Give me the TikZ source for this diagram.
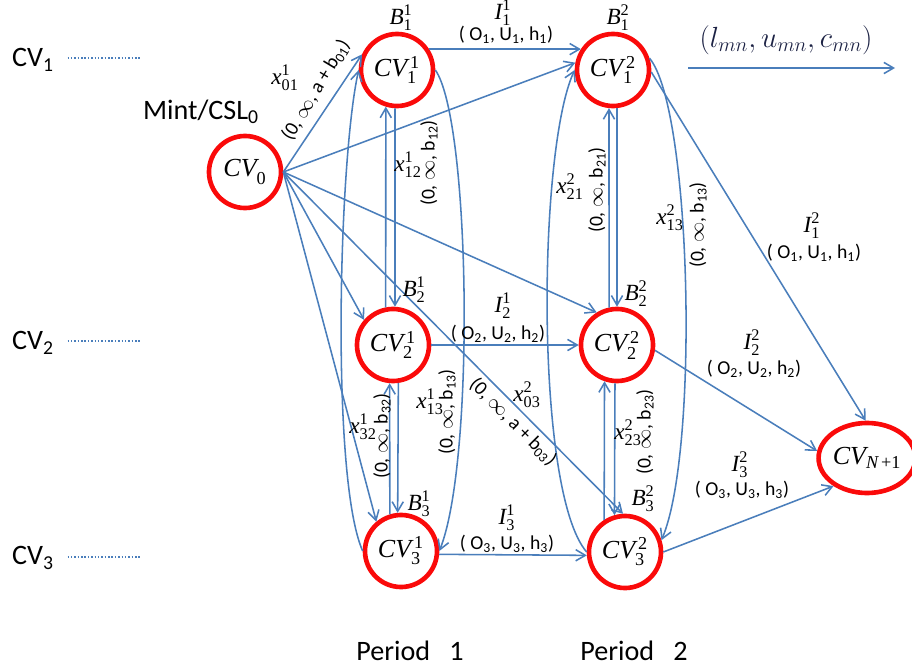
\documentclass[tikz,border=0pt]{standalone}
\usepackage{amsmath}
\usepackage[no-math]{fontspec}
\setmainfont{Carlito}
\newfontfamily\tnr{Liberation Serif}
\usetikzlibrary{arrows.meta, positioning, shapes.geometric}
\definecolor{cvred}{RGB}{250,10,10}
\definecolor{flowblue}{RGB}{74,126,187}
\definecolor{inkblue}{RGB}{28,34,68}
\newcommand{\tsym}[3]{{\tnr\itshape #1}$_{\text{\tnr\upshape #2}}^{\text{\tnr\upshape #3}}$}
\newcommand{\cvsize}{\fontsize{18.5}{22}\selectfont}
\newcommand{\labsize}{\fontsize{14}{16}\selectfont}
\newcommand{\symsize}{\fontsize{16.5}{19}\selectfont}
\newcommand{\bigsize}{\fontsize{20}{24}\selectfont}

\tikzset{
  cvnode/.style={circle, draw=cvred, line width=3.3pt, minimum size=1.8cm, inner sep=0pt, font=\cvsize},
  flow/.style={draw=flowblue, line width=1.1pt, -{Straight Barb[length=2.4mm, width=2.8mm]}},
  symlab/.style={font=\symsize, inner sep=0pt},
  caplab/.style={font=\labsize, inner sep=0pt},
  biglab/.style={font=\bigsize, inner sep=1pt},
  dotline/.style={draw=flowblue, line width=1.1pt, dash pattern=on 1.1pt off 1.3pt}
}

\begin{document}
\begin{tikzpicture}[x=0.025cm, y=-0.025cm]
  \useasboundingbox (0,0) rectangle (912,669);

  % control volumes
  \node[cvnode] (cv0) at (245,172) {\tsym{CV}{0}{}};
  \node[cvnode] (c11) at (397,70) {\tsym{CV}{1}{\,1}};
  \node[cvnode] (c12) at (613,70) {\tsym{CV}{1}{\,2}};
  \node[cvnode] (c21) at (393,345) {\tsym{CV}{2}{\,1}};
  \node[cvnode] (c22) at (617,345) {\tsym{CV}{2}{\,2}};
  \node[cvnode] (c31) at (401,551) {\tsym{CV}{3}{\,1}};
  \node[cvnode] (c32) at (625,552) {\tsym{CV}{3}{\,2}};
  \node[ellipse, draw=cvred, line width=3.3pt, minimum width=2.05cm, minimum height=1.75cm,
        inner sep=0pt, font=\cvsize] (cN) at (867,458)
        {{\tnr\itshape CV}$_{\text{\tnr\itshape N\upshape\,+1}}$};

  % left axis labels
  \foreach \i/\yy/\ty in {1/58/60, 2/341/343, 3/557/558}{
    \node[biglab] (lcv\i) at (33,\ty) {CV\textsubscript{\i}};
    \coordinate (dot\i) at (141,\yy);
    \draw[dotline, shorten <=0.3cm] (lcv\i.east |- dot\i) -- (dot\i);
  }
  \node[biglab] (mint) at (201,112) {Mint/CSL\textsubscript{0}};
  \node[biglab] (per1) at (410,651) {Period~~~1};
  \node[biglab] (per2) at (634,651) {Period~~~2};

  % legend
  \node[font=\fontsize{21}{24}\selectfont, text=inkblue] (lum) at (786,40) {$(l_{mn}, u_{mn}, c_{mn})$};
  \coordinate (ar1) at (688,68);
  \coordinate (ar2) at (895,68);
  \draw[flow] (ar1) -- (ar2);

  % arcs out of CV0
  \draw[flow] (cv0.east) -- (c11.156);
  \draw[flow] (cv0.east) -- (c12.169);
  \draw[flow] (cv0.east) -- (c21.139);
  \draw[flow] (cv0.east) -- (c22.122);
  \draw[flow] (cv0.east) -- (c31.130);
  \draw[flow] (cv0.east) -- (c32.93);

  % transfers inside a period
  \draw[flow] (c21.101) -- (c11.253);
  \draw[flow] (c11.267) -- (c21.87);
  \draw[flow] (c31.107) -- (c21.265);
  \draw[flow] (c21.278) -- (c31.95);
  \draw[flow] (c22.102) -- (c12.264);
  \draw[flow] (c12.276) -- (c22.90);
  \draw[flow] (c32.123) -- (c22.251);
  \draw[flow] (c22.267) -- (c32.106);
  \draw[flow] (c31.west) .. controls +(-32,-72) and +(-20,90) .. (c11.west);
  \draw[flow] (c11.east) .. controls +(35,50) and +(36,-91) .. (c31.east);
  \draw[flow] (c32.west) .. controls +(-52,-60) and +(-37,80) .. (c12.west);
  \draw[flow] (c12.18) .. controls +(42,50) and +(38,-90) .. (c32.18);

  % inventory arcs
  \draw[flow] (c11.33) -- (c12.147);
  \draw[flow] (c21) -- (c22);
  \draw[flow] (c31.-5) -- (c32.185);
  \draw[flow] (c12.-3) -- (cN.92);
  \draw[flow] (c22.-8) -- (cN.172);
  \draw[flow] (c32.east) -- (cN.220);

  % balances
  \node[symlab] (b11) at (401,18) {\tsym{B}{1}{1}};
  \node[symlab] (b12) at (618,18) {\tsym{B}{1}{2}};
  \node[symlab] (b21) at (414,290) {\tsym{B}{2}{1}};
  \node[symlab] (b22) at (636,294) {\tsym{B}{2}{2}};
  \node[symlab] (b31) at (419,504) {\tsym{B}{3}{1}};
  \node[symlab] (b32) at (643,499) {\tsym{B}{3}{2}};

  % flow variables
  \node[symlab] (x01) at (285,78) {\tsym{x}{01}{1}};
  \node[symlab] (x12) at (408,165) {\tsym{x}{12}{1}};
  \node[symlab] (x21) at (570,187) {\tsym{x}{21}{2}};
  \node[symlab] (x13b) at (670,218) {\tsym{x}{13}{2}};
  \node[symlab] (x13a) at (430,402) {\tsym{x}{13}{1}};
  \node[symlab] (x32) at (363,427) {\tsym{x}{32}{1}};
  \node[symlab] (x03) at (527,395) {\tsym{x}{03}{2}};
  \node[symlab] (x23) at (628,433) {\tsym{x}{23}{2}};

  % bounds and costs
  \node[caplab, rotate=59] (k01) at (316,90) {(0, $\infty$, a + b\textsubscript{01})};
  \node[caplab, rotate=90] (k12) at (429,163) {(0, $\infty$, b\textsubscript{12})};
  \node[caplab, rotate=90] (k21) at (597,190) {(0, $\infty$, b\textsubscript{21})};
  \node[caplab, rotate=90] (k13b) at (698,225) {(0, $\infty$, b\textsubscript{13})};
  \node[caplab, rotate=90] (k13a) at (447,412) {(0, $\infty$, b\textsubscript{13})};
  \node[caplab, rotate=90] (k32) at (382,436) {(0, $\infty$, b\textsubscript{32})};
  \node[caplab, rotate=90] (k23) at (645,432) {(0, $\infty$, b\textsubscript{23})};
  \node[caplab, rotate=-45] (k03) at (513,422) {(0, $\infty$, a + b\textsubscript{03})};

  % inventory labels
  \node[symlab] (i11) at (503,13) {\tsym{I}{1}{1}};
  \node[caplab] (h11) at (506,35) {( O\textsubscript{1}, U\textsubscript{1}, h\textsubscript{1})};
  \node[symlab] (i21) at (503,306) {\tsym{I}{2}{1}};
  \node[caplab] (h21) at (498,334) {( O\textsubscript{2}, U\textsubscript{2}, h\textsubscript{2})};
  \node[symlab] (i31) at (507,518) {\tsym{I}{3}{1}};
  \node[caplab] (h31) at (507,544) {( O\textsubscript{3}, U\textsubscript{3}, h\textsubscript{3})};
  \node[symlab] (i12) at (812,226) {\tsym{I}{1}{2}};
  \node[caplab] (h12) at (814,253) {( O\textsubscript{1}, U\textsubscript{1}, h\textsubscript{1})};
  \node[symlab] (i22) at (752,343) {\tsym{I}{2}{2}};
  \node[caplab] (h22) at (754,369) {( O\textsubscript{2}, U\textsubscript{2}, h\textsubscript{2})};
  \node[symlab] (i32) at (740,465) {\tsym{I}{3}{2}};
  \node[caplab] (h32) at (742,490) {( O\textsubscript{3}, U\textsubscript{3}, h\textsubscript{3})};
\end{tikzpicture}
\end{document}
